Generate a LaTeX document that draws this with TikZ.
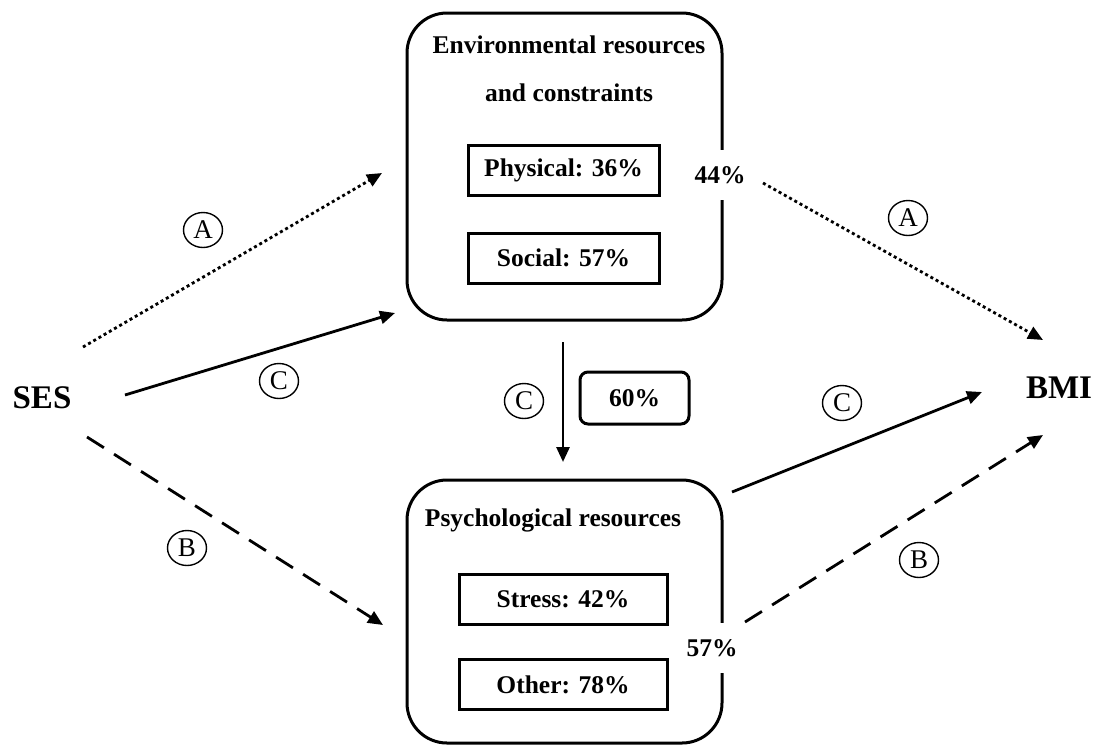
\documentclass[tikz,border=0pt]{standalone}
\usepackage{fontspec}
\setmainfont{Liberation Serif}
\usetikzlibrary{arrows.meta,shapes.geometric}
\begin{document}
\begin{tikzpicture}[x=1pt,y=-1pt,
  font=\bfseries\fontsize{25.5}{30}\selectfont,
  bigbox/.style={draw, line width=3pt, rounded corners=40pt, inner sep=0pt},
  subbox/.style={draw, line width=3pt, fill=white, minimum height=50pt},
  lbl/.style={inner sep=0pt},
  pct/.style={fill=white, minimum height=50pt, inner sep=1pt},
  letter/.style={draw, ellipse, line width=1.4pt, minimum width=39pt, minimum height=35pt, inner sep=0pt, font=\mdseries\fontsize{27}{30}\selectfont},
  arr/.style={line width=2.8pt, -{Triangle[length=15pt,width=13pt]}},
  dotline/.style={arr, dash pattern=on 3pt off 3pt},
  dashline/.style={arr, dash pattern=on 20pt off 12pt},
  big/.style={font=\bfseries\fontsize{33}{36}\selectfont, inner sep=0pt},
]
\useasboundingbox (0,0) rectangle (1098,745);

% main boxes
\node[bigbox, minimum width=315pt, minimum height=307pt] (env) at (564.5,166.5) {};
\node[bigbox, minimum width=315pt, minimum height=263pt] (psy) at (564.5,611.5) {};

% headings
\node[lbl] (envt1) at (569,45) {Environmental resources};
\node[lbl] (envt2) at (569,93) {and constraints};
\node[lbl] (psyt) at (553,520) {Psychological resources};

% sub boxes
\node[subbox, minimum width=191pt] (phys) at (563.5,170) {Physical: 36\%};
\node[subbox, minimum width=191pt] (soc) at (563.5,258) {Social: 57\%};
\node[subbox, minimum width=208pt] (stress) at (563,599.5) {Stress: 42\%};
\node[subbox, minimum width=208pt] (other) at (563,684.5) {Other: 78\%};

% percentages on borders
\node[pct] (p44) at (720,175) {44\%};
\node[pct] (p57) at (712,648) {57\%};
\node[draw, line width=3pt, rounded corners=8pt, minimum width=109pt, minimum height=52pt] (p60) at (634.5,398) {60\%};

% end nodes
\node[big] (ses) at (42,398) {SES};
\node[big] (bmi) at (1059,388) {BMI};

% connector end points
\coordinate (aL0) at (83,347);  \coordinate (aL1) at (382,173);
\coordinate (cL0) at (125,395); \coordinate (cL1) at (395,313);
\coordinate (bL0) at (87,437);  \coordinate (bL1) at (383,625);
\coordinate (d0) at (563,342);  \coordinate (d1) at (563,462);
\coordinate (aR0) at (763,183); \coordinate (aR1) at (1043,340);
\coordinate (cR0) at (732,492); \coordinate (cR1) at (982,392);
\coordinate (bR0) at (745,622); \coordinate (bR1) at (1043,435);

\draw[dotline] (aL0) -- (aL1);
\draw[arr] (cL0) -- (cL1);
\draw[dashline] (bL0) -- (bL1);
\draw[arr] (d0) -- (d1);
\draw[dotline] (aR0) -- (aR1);
\draw[arr] (cR0) -- (cR1);
\draw[dashline] (bR0) -- (bR1);

% path letters
\node[letter] (la1) at (203,230) {A};
\node[letter] (lc1) at (279,381) {C};
\node[letter] (lb1) at (187,548) {B};
\node[letter] (lc2) at (524,401) {C};
\node[letter] (la2) at (908,218) {A};
\node[letter] (lc3) at (842,403) {C};
\node[letter] (lb2) at (919,560) {B};
\end{tikzpicture}
\end{document}
